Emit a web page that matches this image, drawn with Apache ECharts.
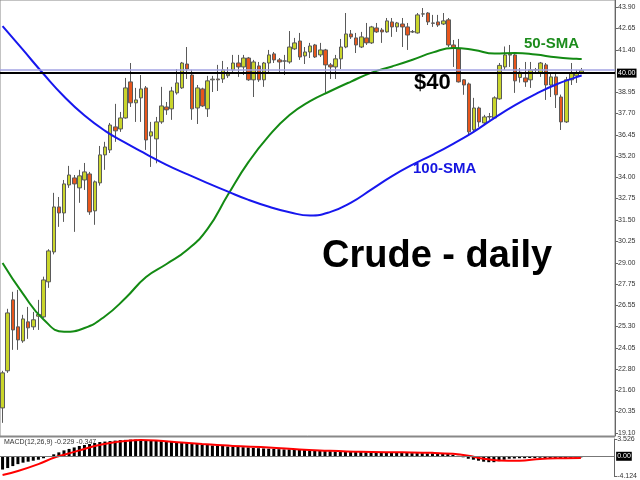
<!DOCTYPE html>
<html>
<head>
<meta charset="utf-8">
<script src="https://cdn.jsdelivr.net/npm/echarts@6.0.0/dist/echarts.min.js"></script>
<style>html,body{margin:0;padding:0;background:#fff}#c{width:640px;height:480px}</style>
</head>
<body>
<div id="c"></div>
<script>
// ---- data ----
const opens = [20.56,22.72,26.85,25.28,24.46,25.57,25.28,25.90,25.86,27.90,
29.64,32.26,31.91,33.54,33.95,33.37,33.83,34.18,32.03,33.66,
35.29,35.58,36.92,36.80,37.44,39.54,38.32,38.61,39.19,36.39,
36.22,37.21,38.08,37.97,38.90,39.19,40.58,39.94,38.02,39.13,
37.97,39.66,39.71,39.71,39.90,40.24,40.64,40.41,40.93,39.66,
40.47,39.66,40.64,41.17,40.82,40.75,40.70,41.46,41.92,41.05,
41.28,41.69,41.11,41.40,40.53,40.41,40.88,41.57,42.33,42.10,
41.57,42.10,41.81,42.68,42.56,42.45,43.03,42.74,42.91,42.74,
42.45,42.39,43.49,43.55,42.97,43.03,42.91,43.15,41.69,41.46,
39.66,39.42,36.75,38.02,37.15,37.50,37.44,38.55,40.41,41.10,
41.11,39.80,39.77,39.66,40.24,40.06,40.53,39.36,39.83,38.66,
37.21,39.66,39.89,40.10];
const closes = [22.60,26.09,25.10,24.52,25.74,25.22,25.69,26.00,28.01,29.70,
32.26,31.91,33.60,34.12,33.60,34.07,34.30,31.97,33.72,35.29,
35.75,37.03,36.69,37.44,39.19,38.32,38.49,39.13,36.16,36.63,
37.21,38.14,37.91,39.01,39.48,40.64,40.29,37.97,39.19,38.14,
39.60,39.70,39.66,40.24,40.00,40.64,40.41,40.93,39.66,40.70,
39.66,40.64,41.11,40.82,40.70,40.76,41.57,41.81,40.99,41.28,
41.63,40.99,41.40,40.53,40.41,40.88,41.57,42.33,42.16,41.69,
42.16,41.81,42.74,42.45,42.45,43.09,42.74,42.97,42.74,42.27,
42.46,43.44,43.50,43.03,42.95,42.85,43.09,41.69,41.51,39.54,
39.36,36.63,38.02,37.21,37.50,37.52,38.61,40.50,41.11,41.15,
39.60,40.10,39.54,40.24,40.25,40.64,39.36,39.83,38.79,37.21,
39.66,40.06,40.06,40.20];
const lows = [19.69,22.60,23.94,23.94,24.35,24.58,25.10,25.10,25.80,27.55,
29.50,31.10,31.39,33.37,30.81,32.50,33.25,31.80,31.22,33.50,
34.42,35.40,36.05,36.63,37.40,38.08,37.21,37.21,35.58,34.59,
34.80,37.10,37.62,37.33,38.80,39.13,39.71,37.33,37.09,38.08,
37.50,38.95,39.01,39.48,39.77,40.12,39.83,39.94,39.60,38.66,
39.54,39.25,40.12,40.64,40.12,39.94,40.60,41.40,40.82,40.58,
40.93,40.93,40.99,38.90,39.71,39.71,40.29,41.50,42.04,41.22,
41.51,41.69,41.75,42.39,41.81,42.40,42.16,42.45,41.57,41.40,
42.39,42.35,43.32,42.85,42.74,42.74,42.85,41.57,40.41,39.50,
38.79,36.45,36.57,36.92,37.03,37.33,37.40,38.50,40.24,40.41,
38.90,39.50,39.25,39.19,40.06,39.83,38.49,38.66,38.02,36.74,
37.15,39.36,39.48,40.00];
const highs = [22.72,26.33,27.32,27.43,25.98,26.44,26.15,26.85,28.20,29.80,
33.08,32.84,33.83,34.65,34.12,34.42,34.82,34.30,33.80,35.81,
36.05,37.15,38.26,37.79,39.77,40.64,39.19,39.94,39.30,37.21,
37.50,39.25,38.37,39.25,40.29,40.70,41.57,40.24,39.36,39.20,
39.89,39.89,40.53,40.76,40.40,41.11,41.11,41.11,40.99,40.82,
40.70,40.70,41.40,41.28,40.93,41.11,42.50,42.10,42.39,41.57,
41.81,41.75,41.81,41.46,40.64,41.11,42.04,43.55,42.56,42.39,
42.45,42.97,42.80,42.97,42.68,43.26,43.26,43.03,43.26,42.97,
42.56,43.55,43.84,43.60,43.44,43.44,43.55,43.26,41.98,42.04,
39.70,39.50,38.61,38.10,37.62,37.73,38.70,40.64,41.60,41.69,
41.22,40.35,40.70,40.70,40.35,40.70,40.64,40.06,40.12,38.80,
39.83,40.64,40.24,40.35];

// moving averages every 4 bars: [bar index, price]
const sma50 = [[0,29.00],[4,27.20],[8,25.71],[12,24.99],[16,25.21],[20,25.90],[24,26.96],[28,28.18],
[32,28.94],[36,29.75],[40,30.98],[44,32.98],[48,34.88],[52,36.41],[56,37.61],[60,38.42],[64,39.01],
[68,39.56],[72,40.08],[76,40.44],[80,40.83],[84,41.26],[88,41.51],[92,41.40],[96,41.19],[100,41.22],
[104,41.13],[108,40.97],[112,40.88],[113,40.87]];
const sma100 = [[0,42.79],[4,41.40],[8,40.00],[12,38.69],[16,37.58],[20,36.69],[24,35.99],[28,35.34],
[32,34.71],[36,34.17],[40,33.65],[44,33.15],[48,32.67],[52,32.27],[56,31.95],[60,31.76],[64,31.97],
[68,32.51],[72,33.28],[76,34.05],[80,34.72],[84,35.31],[88,35.95],[92,36.65],[96,37.45],[100,38.19],
[104,38.83],[108,39.39],[112,39.82],[113,39.91]];

// MACD(12,26,9)
const macdHist = [-2.7,-2.4,-2.0,-1.6,-1.3,-1.1,-0.9,-0.7,-0.4,-0.1,
0.4,0.8,1.2,1.5,1.8,2.1,2.3,2.5,2.7,2.9,
3.0,3.1,3.2,3.3,3.35,3.4,3.4,3.4,3.3,3.25,
3.2,3.1,3.0,2.95,2.9,2.8,2.7,2.6,2.5,2.4,
2.3,2.2,2.15,2.1,2.0,1.95,1.9,1.85,1.8,1.7,
1.65,1.6,1.55,1.5,1.45,1.4,1.4,1.35,1.3,1.3,
1.25,1.2,1.15,1.1,1.05,1.0,1.0,0.95,0.95,0.9,
0.9,0.85,0.85,0.8,0.8,0.8,0.75,0.75,0.7,0.7,
0.65,0.65,0.65,0.6,0.6,0.55,0.55,0.5,0.3,0.1,
-0.2,-0.5,-0.7,-0.9,-1.1,-1.2,-1.2,-1.0,-0.7,-0.5,
-0.45,-0.4,-0.4,-0.35,-0.35,-0.3,-0.35,-0.35,-0.4,-0.45,
-0.35,-0.3,-0.25,-0.229];
const macdSignal = [[0,-3.8],[3,-3.0],[7,-1.6],[10,-0.3],[12,0.3],[15,1.2],[18,2.1],[21,2.7],[24,3.1],
[27,3.3],[30,3.2],[35,2.8],[39,2.5],[45,2.1],[52,1.8],[58,1.4],[62,1.2],[70,0.9],[78,0.8],[84,0.7],
[88,0.5],[91,0.1],[94,-0.5],[97,-0.85],[101,-0.9],[105,-0.55],[109,-0.4],[113,-0.347]];

const priceTicks = [19.10,20.35,21.60,22.80,24.05,25.30,26.55,27.75,29.00,30.25,31.50,32.75,34.00,35.20,36.45,37.70,38.95,41.40,42.65,43.90];
const macdTicks = [-4.124, 3.526];
const supportLevel = 40.05;
const supportLabel = '40.00';
const askLevel = 40.27;
const slotCount = 120; // bars plus the empty right margin
const categories = Array.from({length: slotCount}, (_, i) => 'D' + (i + 1));

// ---- chart ----
const candles = opens.map((o, i) => [o, closes[i], lows[i], highs[i]]);
const chart = echarts.init(document.getElementById('c'), null, {renderer: 'canvas'});
const FONT = 'Liberation Sans';
chart.setOption({
  animation: false,
  backgroundColor: '#ffffff',
  textStyle: {fontFamily: FONT},
  grid: [
    {left: 0, right: 25, top: 0, bottom: 44, show: true, borderColor: '#888', borderWidth: 1},
    {left: 0, right: 25, top: 439, bottom: -1, show: false}
  ],
  xAxis: [
    {type: 'category', data: categories, gridIndex: 0, boundaryGap: true,
     axisLine: {show: false}, axisTick: {show: false}, axisLabel: {show: false}, splitLine: {show: false}},
    {type: 'category', data: categories, gridIndex: 1, boundaryGap: true,
     axisLine: {show: false}, axisTick: {show: false}, axisLabel: {show: false}, splitLine: {show: false}}
  ],
  yAxis: [
    {type: 'value', gridIndex: 0, position: 'right', min: 18.925, max: 44.307, scale: true,
     axisLine: {show: true, lineStyle: {color: '#666', width: 1}},
     axisTick: {show: true, length: 3, lineStyle: {color: '#666'}, customValues: priceTicks},
     axisLabel: {show: true, customValues: priceTicks, formatter: v => v.toFixed(2), fontSize: 7, color: '#333', margin: 3, fontFamily: FONT},
     splitLine: {show: false}},
    {type: 'value', gridIndex: 1, position: 'right', min: -4.124, max: 3.526,
     axisLine: {show: true, lineStyle: {color: '#666', width: 1}},
     axisTick: {show: true, length: 3, lineStyle: {color: '#666'}, customValues: macdTicks},
     axisLabel: {show: true, customValues: macdTicks, formatter: v => v.toFixed(3), fontSize: 7, color: '#333', margin: 3, fontFamily: FONT},
     splitLine: {show: false}}
  ],
  series: [
    {type: 'candlestick', name: 'Crude', xAxisIndex: 0, yAxisIndex: 0, data: candles, barWidth: 4,
     itemStyle: {color: '#c9d52b', color0: '#e8561c', borderColor: '#5a5a5a', borderColor0: '#5a5a5a', borderWidth: 1},
     markLine: {silent: true, symbol: 'none', animation: false,
       data: [
         {yAxis: askLevel, lineStyle: {color: '#a3a3e3', width: 1.5, type: 'solid'}, label: {show: false}},
         {yAxis: supportLevel, lineStyle: {color: '#000', width: 2, type: 'solid'},
          label: {show: true, position: 'end', formatter: supportLabel, backgroundColor: '#000', color: '#fff', fontSize: 7, padding: [1, 1], distance: 2, fontFamily: FONT}}
       ]}
    },
    {type: 'line', name: '50-SMA', xAxisIndex: 0, yAxisIndex: 0, data: sma50, smooth: 0.5, showSymbol: false,
     lineStyle: {color: '#138a13', width: 2}, z: 3},
    {type: 'line', name: '100-SMA', xAxisIndex: 0, yAxisIndex: 0, data: sma100, smooth: 0.5, showSymbol: false,
     lineStyle: {color: '#1717ee', width: 2}, z: 3},
    {type: 'bar', name: 'MACD', xAxisIndex: 1, yAxisIndex: 1, data: macdHist, barWidth: 3,
     itemStyle: {color: '#000'},
     markLine: {silent: true, symbol: 'none', animation: false,
       data: [{yAxis: 0, lineStyle: {color: '#777', width: 1, type: 'solid'},
         label: {show: true, position: 'end', formatter: '0.00', backgroundColor: '#000', color: '#fff', fontSize: 7, padding: [1, 1], distance: 2, fontFamily: FONT}}]}
    },
    {type: 'line', name: 'Signal', xAxisIndex: 1, yAxisIndex: 1, data: macdSignal, smooth: 0.4, showSymbol: false,
     lineStyle: {color: '#ff0000', width: 2}, z: 3}
  ],
  graphic: [
    {type: 'rect', left: 0, top: 436, shape: {width: 615, height: 1.5}, style: {fill: '#888'}, silent: true},
    {type: 'text', left: 322, top: 238, style: {text: 'Crude - daily', font: 'bold 38px "Liberation Sans"', fill: '#000'}},
    {type: 'text', left: 414, top: 72, style: {text: '$40', font: 'bold 22px "Liberation Sans"', fill: '#000'}},
    {type: 'text', left: 524, top: 36, style: {text: '50-SMA', font: 'bold 15px "Liberation Sans"', fill: '#1d8c1d'}},
    {type: 'text', left: 413, top: 161, style: {text: '100-SMA', font: 'bold 15px "Liberation Sans"', fill: '#1515e0'}},
    {type: 'text', left: 4, top: 439, style: {text: 'MACD(12,26,9) -0.229 -0.347', font: '7px "Liberation Sans"', fill: '#333'}}
  ]
});
</script>
</body>
</html>
